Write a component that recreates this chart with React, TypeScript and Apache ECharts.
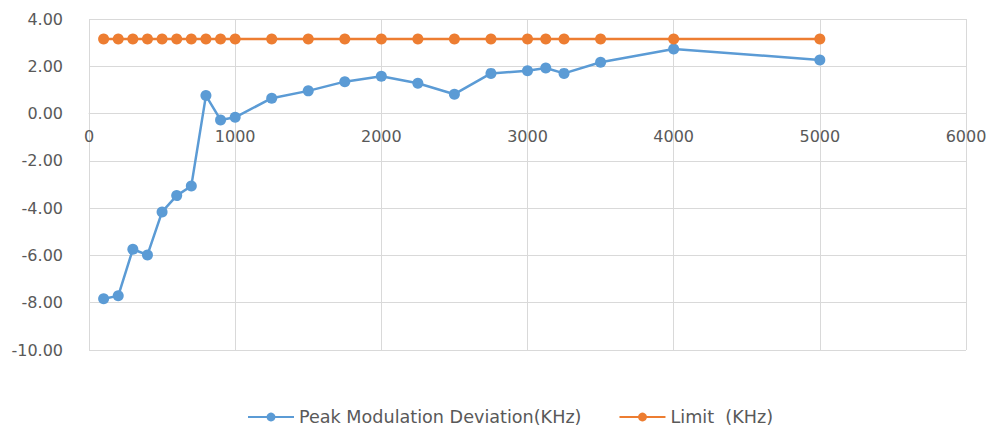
import React, { useEffect, useRef } from "react";
import * as echarts from "echarts";

const freqs = [100, 200, 300, 400, 500, 600, 700, 800, 900, 1000, 1250, 1500, 1750, 2000, 2250, 2500, 2750, 3000, 3125, 3250, 3500, 4000, 5000];
const deviation = [-7.83, -7.71, -5.74, -5.98, -4.16, -3.47, -3.06, 0.76, -0.27, -0.16, 0.65, 0.96, 1.35, 1.58, 1.28, 0.82, 1.7, 1.81, 1.93, 1.7, 2.17, 2.73, 2.27];
const limit = [3.15, 3.15, 3.15, 3.15, 3.15, 3.15, 3.15, 3.15, 3.15, 3.15, 3.15, 3.15, 3.15, 3.15, 3.15, 3.15, 3.15, 3.15, 3.15, 3.15, 3.15, 3.15, 3.15];
const seriesNames = ["Peak Modulation Deviation(KHz)", "Limit  (KHz)"];

const Y_MIN = -10;
const Y_MAX = 4;

export default function App() {
  const ref = useRef<HTMLDivElement>(null);
  useEffect(() => {
    if (!ref.current) return;
    document.body.style.margin = "0";
    document.body.style.overflow = "hidden";
    const chart = echarts.init(ref.current, undefined, { renderer: "svg" });
    const font = "DejaVu Sans";
    const gridColor = "#D9D9D9";
    const textColor = "#595959";
    const gridTop = 19;
    const gridBottom = 77;
    const gridH = 427 - gridTop - gridBottom;
    // move the horizontal axis up to the y = 0 line
    const zeroOffset = -(gridH * (0 - Y_MIN)) / (Y_MAX - Y_MIN);
    chart.setOption({
      animation: false,
      backgroundColor: "#ffffff",
      grid: { left: 89, right: 24, top: gridTop, bottom: gridBottom, containLabel: false },
      xAxis: {
        type: "value",
        min: 0,
        max: 6000,
        interval: 1000,
        offset: zeroOffset,
        axisLine: { show: true, onZero: false, lineStyle: { color: gridColor, width: 1 } },
        axisTick: { show: false },
        axisLabel: { color: textColor, fontFamily: font, fontSize: 16, margin: 15, formatter: (v: number) => String(v) },
        splitLine: { show: true, lineStyle: { color: gridColor, width: 1 } },
      },
      yAxis: {
        type: "value",
        min: Y_MIN,
        max: Y_MAX,
        interval: 2,
        axisLine: { show: false, onZero: false },
        axisTick: { show: false },
        axisLabel: {
          color: textColor,
          fontFamily: font,
          fontSize: 16,
          margin: 26,
          formatter: (v: number) => v.toFixed(2),
        },
        splitLine: { show: true, lineStyle: { color: gridColor, width: 1 } },
      },
      legend: {
        top: 408,
        left: 247,
        itemWidth: 46,
        itemHeight: 11,
        itemGap: 37,
        padding: 0,
        textStyle: { color: textColor, fontFamily: font, fontSize: 17.6 },
        data: seriesNames,
      },
      series: [
        {
          name: seriesNames[0],
          type: "line",
          data: freqs.map((f, i) => [f, deviation[i]]),
          symbol: "circle",
          symbolSize: 11,
          lineStyle: { color: "#5B9BD5", width: 2.5 },
          itemStyle: { color: "#5B9BD5" },
        },
        {
          name: seriesNames[1],
          type: "line",
          data: freqs.map((f, i) => [f, limit[i]]),
          symbol: "circle",
          symbolSize: 11,
          lineStyle: { color: "#ED7D31", width: 2.5 },
          itemStyle: { color: "#ED7D31" },
        },
      ],
    });
    return () => chart.dispose();
  }, []);
  return <div ref={ref} style={{ position: "fixed", left: 0, top: 0, width: 990, height: 427 }} />;
}
